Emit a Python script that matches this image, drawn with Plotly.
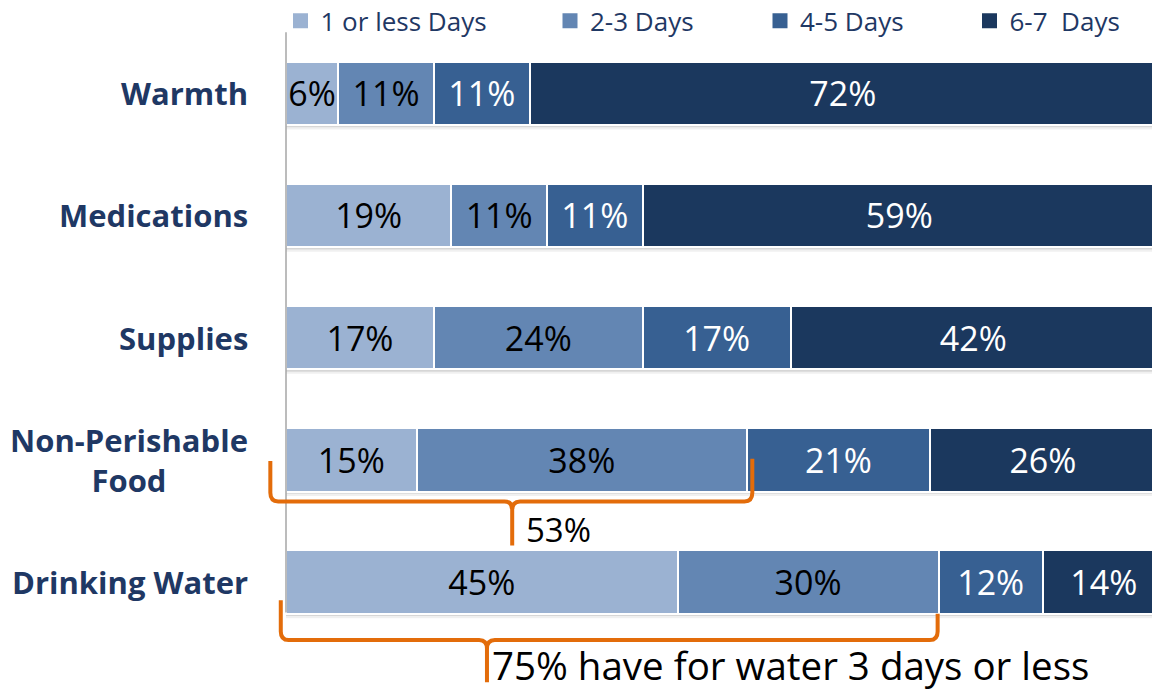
import plotly.graph_objects as go

# ---- data ----
categories = ["Warmth", "Medications", "Supplies", "Non-Perishable<br>Food", "Drinking Water"]
series_names = ["1 or less Days", "2-3 Days", "4-5 Days", "6-7  Days"]
one_or_less = [6, 19, 17, 15, 45]
two_three = [11, 11, 24, 38, 30]
four_five = [11, 11, 17, 21, 12]
six_seven = [72, 59, 42, 26, 14]
brace_food_label = "53%"
brace_water_label = "75% have for water 3 days or less"

# ---- style ----
colors = ["#9bb2d2", "#6386b3", "#376092", "#1b385e"]
text_colors = ["#000000", "#000000", "#ffffff", "#ffffff"]
navy = "#1f3864"
orange = "#e36c0a"
FONT = "Open Sans"

W, H = 1152, 694
ML, MR, MT, MB = 265, 0, 20, 2
plot_w = W - ML - MR
X_RANGE = [-2.414, 99.54]
BAR_W = 0.52

legend_ids = ["legend", "legend2", "legend3", "legend4"]
legend_x_px = [280.5, 550, 760, 969.5]

all_series = [one_or_less, two_three, four_five, six_seven]

fig = go.Figure()
for name, vals, col, tcol, lid in zip(series_names, all_series, colors, text_colors, legend_ids):
    fig.add_trace(go.Bar(
        name=name, y=categories, x=vals, orientation="h", showlegend=False,
        marker=dict(color=col, line=dict(color="white", width=2)),
        width=BAR_W,
        text=[f"{v}%" for v in vals], textposition="inside",
        insidetextanchor="middle", textangle=0,
        textfont=dict(family=FONT, size=34, color=tcol),
        constraintext="none",
        hoverinfo="skip",
    ))
    # legend entry (square swatch)
    fig.add_trace(go.Scatter(
        name=name, x=[None], y=[None], mode="markers", legend=lid,
        marker=dict(symbol="square", size=15, color=col),
        hoverinfo="skip",
    ))

# category labels (centered multi-line, right-aligned block)
annotations = []
label_x = (250 - ML) / plot_w
for c in categories:
    annotations.append(dict(
        xref="paper", yref="y", x=label_x, y=c, xanchor="right", yanchor="middle",
        text=f"<b>{c}</b>", showarrow=False, align="center",
        font=dict(family=FONT, size=31, color=navy),
    ))

def brace_path(x0, x1, xt, yl, yr, yh, ytip, cx=0.9, cy=0.07):
    return (f"M {x0},{yl} L {x0},{yh-cy} Q {x0},{yh} {x0+cx},{yh} "
            f"L {xt-cx},{yh} Q {xt},{yh} {xt},{yh+cy} L {xt},{ytip} "
            f"M {x1},{yr} L {x1},{yh-cy} Q {x1},{yh} {x1-cx},{yh} "
            f"L {xt+cx},{yh} Q {xt},{yh} {xt},{yh+cy}")

food_total = one_or_less[3] + two_three[3]
water_total = one_or_less[4] + two_three[4]

shapes = []
# soft shadow under each stacked bar
for i in range(len(categories)):
    total = sum(s[i] for s in all_series)
    shapes.append(dict(type="rect", xref="x", yref="y", x0=0, x1=total,
                       y0=i + BAR_W / 2, y1=i + BAR_W / 2 + 0.018,
                       fillcolor="rgba(0,0,0,0.16)", line=dict(width=0), layer="below"))
    shapes.append(dict(type="rect", xref="x", yref="y", x0=0, x1=total,
                       y0=i + BAR_W / 2 + 0.018, y1=i + BAR_W / 2 + 0.036,
                       fillcolor="rgba(0,0,0,0.06)", line=dict(width=0), layer="below"))

shapes += [
    # vertical axis line
    dict(type="line", xref="x", yref="y", x0=0, x1=0, y0=-0.5, y1=4.25,
         line=dict(color="#a6a6a6", width=1.5), layer="above"),
    dict(type="path", xref="x", yref="y",
         path=brace_path(-1.8, food_total + 0.6, food_total / 2 - 0.5, 3.01, 2.99, 3.34, 3.70),
         line=dict(color=orange, width=4), layer="above"),
    dict(type="path", xref="x", yref="y",
         path=brace_path(-0.6, water_total - 0.1, 23.1, 4.15, 4.26, 4.475, 4.82),
         line=dict(color=orange, width=4), layer="above"),
]

annotations.append(dict(xref="x", yref="y", x=27.4, y=3.57, xanchor="left", yanchor="middle",
                        text=brace_food_label, showarrow=False,
                        font=dict(family=FONT, size=33, color="#000000")))
annotations.append(dict(xref="x", yref="y", x=23.4, y=4.68, xanchor="left", yanchor="middle",
                        text=brace_water_label, showarrow=False,
                        font=dict(family=FONT, size=38.5, color="#000000")))

layout_legends = {}
for lid, px in zip(legend_ids, legend_x_px):
    layout_legends[lid] = dict(
        orientation="h", x=(px - ML) / plot_w, xanchor="left",
        yref="container", y=0.97, yanchor="middle",
        itemwidth=30, font=dict(family=FONT, size=26, color=navy),
        bgcolor="rgba(0,0,0,0)",
    )

fig.update_layout(
    width=W, height=H,
    margin=dict(l=ML, r=MR, t=MT, b=MB, autoexpand=False),
    barmode="stack",
    plot_bgcolor="white", paper_bgcolor="white",
    showlegend=True,
    xaxis=dict(range=X_RANGE, showgrid=False, zeroline=False, showticklabels=False,
               showline=False, fixedrange=True),
    yaxis=dict(type="category", range=[4.9, -0.6], showgrid=False, zeroline=False,
               showticklabels=False, showline=False, fixedrange=True),
    shapes=shapes, annotations=annotations,
    font=dict(family=FONT),
    **layout_legends,
)

fig.write_html("out.html", config={"displayModeBar": False},
               post_script="document.body.style.margin='0';document.body.style.overflow='hidden';")
